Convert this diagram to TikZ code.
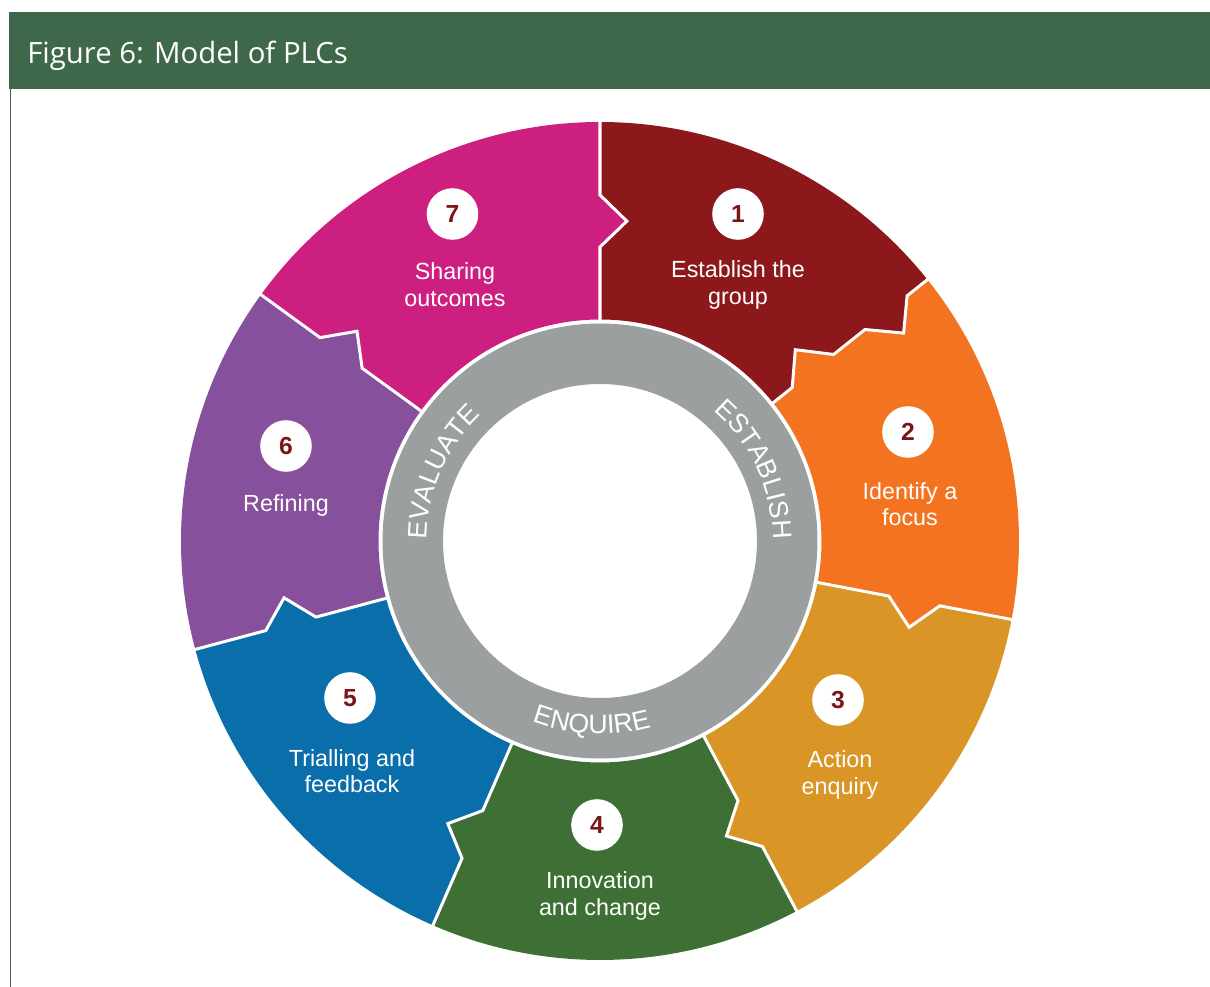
\documentclass[tikz,border=0pt]{standalone}
\usepackage{fontspec}
\setmainfont{Liberation Sans}
\newfontfamily\headfont{Open Sans}
\usetikzlibrary{decorations.text}

\definecolor{headgreen}{HTML}{3F684A}
\definecolor{segA}{HTML}{8D181B}
\definecolor{segB}{HTML}{F37321}
\definecolor{segC}{HTML}{D99526}
\definecolor{segD}{HTML}{3E6F35}
\definecolor{segE}{HTML}{0A6EAA}
\definecolor{segF}{HTML}{87509C}
\definecolor{segG}{HTML}{CC1F80}
\definecolor{ringgrey}{HTML}{9C9FA0}
\definecolor{numred}{HTML}{7D1416}

\newcommand\ringfont{\fontsize{20}{20}\selectfont}

\begin{document}
\begin{tikzpicture}[x=0.75pt, y=0.75pt,
    numdot/.style={circle, fill=white, minimum size=38.7pt, inner sep=0pt,
      text=numred, font=\bfseries\fontsize{18.5}{18.5}\selectfont},
    lbl/.style={text=white, align=center, font=\fontsize{17.5}{20}\selectfont},
    gap/.style={draw=white, line width=2.25pt},
    ringtext/.style={decorate, decoration={text along path, text align=center,
      text color=white, text={|\ringfont|#1}}}]
  \useasboundingbox (-600,-446) rectangle (610,541);
  % title bar
  \fill[headgreen] (-590.5,451.5) rectangle (610,528.5);
  \node[anchor=base west, inner sep=0pt, text=white, font=\headfont\fontsize{22}{22}\selectfont] (title)
    at (-573,477.7) {Figure 6: Model of PLCs};
  \draw[headgreen, line width=0.75pt] (-589.5,451.5) -- (-589.5,-446);

  % coloured sectors
  \def\segs {90/38.6/segA, 38.6/-10.8/segB, -10.8/-62/segC, -62/-113.5/segD,
    -113.5/-165/segE, -165/-216/segF, -216/-270/segG}  % from/to/colour
  \foreach \a/\b/\col in \segs
  { \fill[\col] (\a:221.5) arc[start angle=\a, end angle=\b, radius=221.5]
      -- (\b:419) arc[start angle=\b, end angle=\a, radius=419] -- cycle;
  }
  % tabs and white seams
  \def\tabs {90/segG, -10.8/segB, -62/segC, -113.5/segD, -165/segE, -216/segF}
  \foreach \a/\col in \tabs
  { \fill[\col] (\a+2:346) -- (\a:346) -- (\a-4.8:321) -- (\a:294) -- (\a+2:294) -- cycle;
    \draw[gap] (\a:421) -- (\a:346) -- (\a-4.8:321) -- (\a:294) -- (\a:219);
  }
  \fill[segA] (40.6:393) -- (38.6:393) -- (34.4:368) -- (38.6:339) -- (40.6:339) -- cycle;
  \fill[segB] (36.6:299) -- (38.6:299) -- (44.4:273.4) -- (38.6:246) -- (36.6:246) -- cycle;
  \draw[gap] (38.6:421) -- (38.6:393) -- (34.4:368) -- (38.6:339)
    -- (38.6:299) -- (44.4:273.4) -- (38.6:246) -- (38.6:219);

  % grey ring
  \fill[ringgrey, even odd rule] (0,0) circle[radius=217.5] circle[radius=157];
  \path[ringtext=ESTABLISH] (74.8:173) arc[start angle=74.8, end angle=-25.2, radius=173];
  \path[ringtext=EVALUATE] (206.4:173) arc[start angle=206.4, end angle=106.4, radius=173];
  \path[ringtext=ENQUIRE] (-142.6:193) arc[start angle=-142.6, end angle=-42.6, radius=193];

  % numbers and labels
  \def\steps {1/138/327/138/256/{Establish the\\group},
    2/308/109/310/37/{Identify a\\focus},
    3/238/-159/240/-234/{Action\\enquiry},
    4/-3/-284/0/-355/{Innovation\\and change},
    5/-250/-157/-248/-230/{Trialling and\\feedback},
    6/-314/95/-314/36/{Refining},
    7/-147.5/327/-145/256/{Sharing\\outcomes}}
  \foreach \n/\x/\y/\lx/\ly/\txt in \steps
  { \node[numdot] (n\n) at (\x,\y) {\n};
    \node[lbl] (l\n) at (\lx,\ly) {\txt};
  }
\end{tikzpicture}
\end{document}
